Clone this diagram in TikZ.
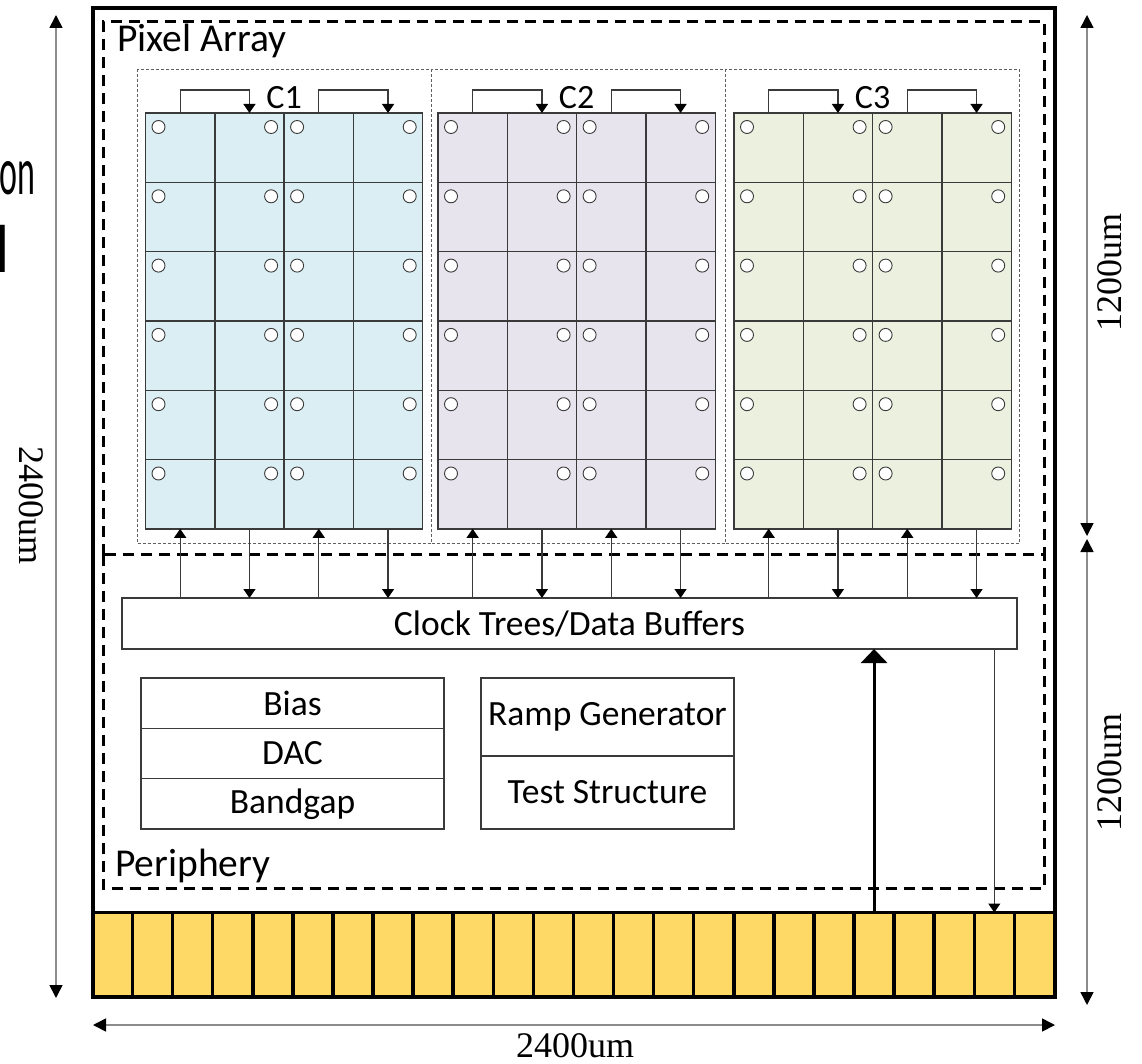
\documentclass[tikz,border=0pt]{standalone}
\usepackage{fontspec}
\setmainfont{Carlito}
\newfontfamily\dimfont{Liberation Serif}
\usetikzlibrary{arrows.meta,calc}

\definecolor{cOne}{HTML}{DAEEF3}
\definecolor{cTwo}{HTML}{E8E4EE}
\definecolor{cThree}{HTML}{EBF1DE}
\definecolor{padfill}{HTML}{FFD966}
\definecolor{wire}{HTML}{3A3A3A}
\definecolor{dimgray}{HTML}{8C8C8C}

\begin{document}
\begin{tikzpicture}[x=1pt,y=-1pt,
  cell/.style={draw=wire, line width=1.4pt, minimum width=69.3pt, minimum height=69.3pt, inner sep=0pt, outer sep=0pt},
  via/.style={circle, draw=wire, fill=white, line width=0.9pt, minimum size=13pt, inner sep=0pt},
  cluster/.style={draw=gray!75!black, dash pattern=on 3pt off 2pt, line width=1pt, inner sep=0pt, outer sep=0pt},
  region/.style={draw, line width=3pt, dash pattern=on 11pt off 7pt},
  block/.style={draw=wire, line width=1.6pt, inner sep=0pt, outer sep=0pt, font=\fontsize{35.5}{40}\selectfont},
  pad/.style={draw, fill=padfill, line width=3.5pt, minimum width=40.08pt, minimum height=84.5pt, inner sep=0pt, outer sep=0pt},
  sig/.style={draw=wire, line width=1.3pt, -{Triangle[width=12pt,length=9pt,color=black]}},
  dim/.style={draw=dimgray, line width=1.6pt, {Triangle[width=13pt,length=13pt,color=black]}-{Triangle[width=13pt,length=13pt,color=black]}},
  lbl/.style={font=\fontsize{39.5}{44}\selectfont, inner sep=0pt},
  clab/.style={font=\fontsize{34}{38}\selectfont, inner sep=0pt},
  dimlbl/.style={font=\dimfont\fontsize{36}{40}\selectfont, inner sep=0pt}
]
\useasboundingbox (0,0) rectangle (1142,1064);

% text running in from the left edge
\begin{scope}
  \clip (0,0) rectangle (1142,1064);
  \node[font=\fontsize{68}{80}\selectfont, xscale=0.5, anchor=base east, inner sep=0pt] (frag1) at (35.5,195) {on};
  \node[font=\fontsize{68}{80}\selectfont, anchor=base west, inner sep=0pt] (frag2) at (-5.3,273) {l};
\end{scope}

% cluster outlines
\node[cluster, minimum width=294pt, minimum height=473pt, anchor=north west] (box1) at (137.5,70) {};
\node[cluster, minimum width=294pt, minimum height=473pt, anchor=north west] (box2) at (431.5,70) {};
\node[cluster, minimum width=294pt, minimum height=473pt, anchor=north west] (box3) at (725.5,70) {};

% pixel cells with their contacts
\foreach \k/\xo/\col in {1/145.5/cOne, 2/438/cTwo, 3/734/cThree} {
  \foreach \r in {1,...,6} {
    \foreach \c in {1,...,4} {
      \node[cell, fill=\col, anchor=north west] (g\k-\r-\c) at ({\xo+(\c-1)*69.3}, {113+(\r-1)*69.3}) {};
    }
    \node[via] (v\k-\r-1) at ($(g\k-\r-1.north west)+(13,14)$) {};
    \node[via] (v\k-\r-2) at ($(g\k-\r-2.north east)+(-13,14)$) {};
    \node[via] (v\k-\r-3) at ($(g\k-\r-3.north west)+(13,14)$) {};
    \node[via] (v\k-\r-4) at ($(g\k-\r-4.north east)+(-13,14)$) {};
  }
  \node[clab] (lab\k) at ($(g\k-1-2.north east)+(0,-15)$) {C\k};
}

% regions: the periphery shares its top edge with the pixel array
\node[inner sep=0pt, outer sep=0pt, minimum width=941pt, minimum height=532.5pt, anchor=north west] (pix) at (103,22) {};
\node[inner sep=0pt, outer sep=0pt, minimum width=941pt, minimum height=333.5pt, anchor=north west] (peri) at (103,554.5) {};
\draw[region] (pix.south west) -- (pix.north west) -- (pix.north east) -- (pix.south east) -- cycle;
\draw[region] (peri.north west) -- (peri.south west) -- (peri.south east) -- (peri.north east);
\node[lbl, anchor=base west] (pixlab) at (117,52) {Pixel Array};
\node[lbl, anchor=base west] (perilab) at (115,876) {Periphery};

% periphery blocks
\node[block, minimum width=895pt, minimum height=51pt, anchor=north west] (clk) at (122,598) {Clock Trees/Data Buffers};
\node[block, minimum width=303pt, minimum height=50.3pt, anchor=north west] (bias) at (141,678) {Bias};
\node[block, minimum width=303pt, minimum height=50.3pt, anchor=north west] (dac) at (141,728.3) {DAC};
\node[block, minimum width=303pt, minimum height=50.4pt, anchor=north west] (bg) at (141,778.6) {Bandgap};
\node[block, minimum width=253pt, minimum height=78pt, anchor=north west] (ramp) at (481,678) {Ramp Generator};
\node[block, minimum width=253pt, minimum height=73pt, anchor=north west] (test) at (481,756) {Test Structure};

% pad ring
\foreach \i in {1,...,24} {
  \node[pad, anchor=north west] (pad\i) at ({92.5+(\i-1)*40.08}, 912.5) {};
}
\node[draw, line width=4pt, minimum width=962pt, minimum height=989pt, inner sep=0pt, outer sep=0pt, anchor=north west] (chip) at (92.5,8) {};

% column signals
\foreach \k in {1,2,3} {
  \draw[sig] (g\k-1-1.north) -- ++(0,-23) -| (g\k-1-2.north);
  \draw[sig] (g\k-1-3.north) -- ++(0,-23) -| (g\k-1-4.north);
  \draw[sig] (g\k-6-1.south |- clk.north) -- (g\k-6-1.south);
  \draw[sig] (g\k-6-2.south) -- (g\k-6-2.south |- clk.north);
  \draw[sig] (g\k-6-3.south |- clk.north) -- (g\k-6-3.south);
  \draw[sig] (g\k-6-4.south) -- (g\k-6-4.south |- clk.north);
}

% pad connections
\draw[line width=3pt, -{Triangle[width=26pt,length=14pt]}] (pad20.north) -- (pad20.north |- clk.south);
\draw[draw=wire, line width=1.1pt, -{Triangle[width=12pt,length=9pt,color=black]}] (pad23.north |- clk.south) -- (pad23.north);

% dimensions
\coordinate (dLt) at (56,15);
\coordinate (dLb) at (56,998);
\coordinate (dRt) at (1087,15);
\coordinate (dRm1) at (1087,536);
\coordinate (dRm2) at (1087,539);
\coordinate (dRb) at (1087,1005);
\coordinate (dBl) at (93,1025);
\coordinate (dBr) at (1055,1025);
\draw[dim] (dLt) -- (dLb);
\draw[dim] (dRt) -- (dRm1);
\draw[dim] (dRm2) -- (dRb);
\draw[dim] (dBl) -- (dBr);
\node[dimlbl, rotate=-90] (dimL) at (31,505) {2400um};
\node[dimlbl, rotate=90] (dimR1) at (1110,272) {1200um};
\node[dimlbl, rotate=90] (dimR2) at (1110,772) {1200um};
\node[dimlbl] (dimB) at (575,1046) {2400um};
\end{tikzpicture}
\end{document}
